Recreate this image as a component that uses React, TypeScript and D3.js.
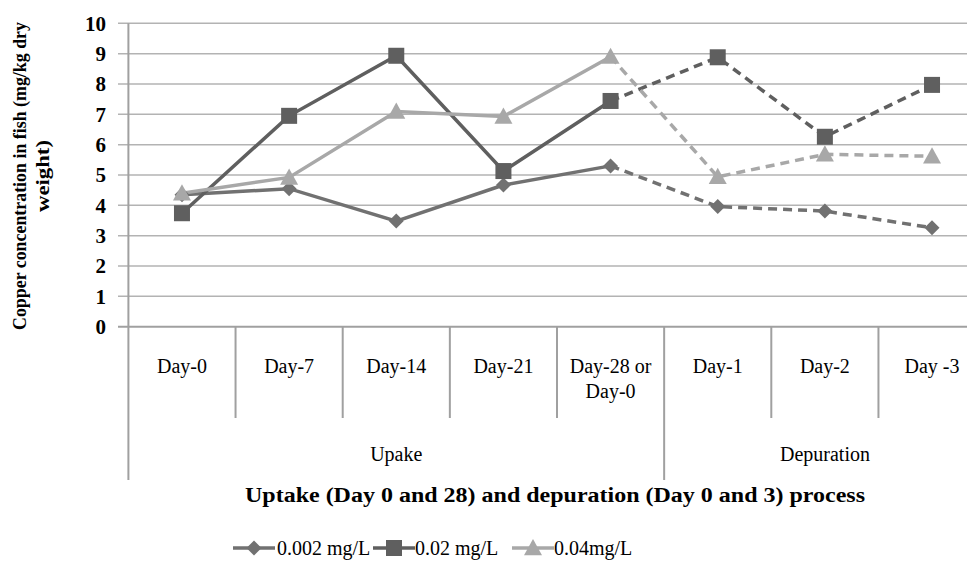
import React from "react";
import * as d3 from "d3";

const categories = ["Day-0", "Day-7", "Day-14", "Day-21", "Day-28 or|Day-0", "Day-1", "Day-2", "Day -3"];
const groups = [
  { name: "Upake", from: 0, to: 5 },
  { name: "Depuration", from: 5, to: 8 },
];
const s002 = [4.35, 4.55, 3.48, 4.67, 5.3, 3.96, 3.81, 3.26];
const s02 = [3.74, 6.95, 8.93, 5.13, 7.44, 8.88, 6.26, 7.97];
const s04 = [4.4, 4.92, 7.09, 6.93, 8.9, 4.94, 5.68, 5.62];
const yTicks = [0, 1, 2, 3, 4, 5, 6, 7, 8, 9, 10];
const seriesNames = ["0.002 mg/L", "0.02 mg/L", "0.04mg/L"];
const dashFrom = 4; // segments after this index are dashed

const W = 967, H = 571;
const left = 128.4, right = 985.6, top = 23.3, bottom = 326.7;
const FONT = "Liberation Serif";

export default function App() {
  const x = d3.scaleBand<number>().domain(d3.range(categories.length)).range([left, right]).paddingInner(0).paddingOuter(0);
  const y = d3.scaleLinear().domain([0, 10]).range([bottom, top]);
  const cx = (i: number) => (x(i) as number) + x.bandwidth() / 2;
  const line = d3.line<[number, number]>().x(d => cx(d[0])).y(d => y(d[1]));

  const series = [
    { name: seriesNames[0], values: s002, color: "#717171", marker: "diamond" },
    { name: seriesNames[1], values: s02, color: "#5f5f5f", marker: "square" },
    { name: seriesNames[2], values: s04, color: "#a8a8a8", marker: "triangle" },
  ];

  const marker = (type: string, px: number, py: number, color: string, key: any) => {
    if (type === "diamond") {
      const r = 7.5;
      return <path key={key} d={`M${px},${py - r}L${px + r},${py}L${px},${py + r}L${px - r},${py}Z`} fill={color} />;
    }
    if (type === "square") {
      const r = 8;
      return <rect key={key} x={px - r} y={py - r} width={2 * r} height={2 * r} fill={color} />;
    }
    const r = 9;
    return <path key={key} d={`M${px},${py - r}L${px + r},${py + r * 0.8}L${px - r},${py + r * 0.8}Z`} fill={color} />;
  };

  const gridColor = "#b3b3b3";
  const axisColor = "#a0a0a0";

  const legendItems = [
    { x: 233, tx: 277 },
    { x: 373, tx: 415 },
    { x: 512, tx: 554 },
  ];

  return (
    <svg width={W} height={H} style={{ position: "absolute", left: 0, top: 0, background: "#fff" }}>
      {/* gridlines & ticks */}
      {yTicks.map(t => (
        <g key={t}>
          <line x1={118} x2={right} y1={y(t)} y2={y(t)} stroke={t === 0 ? axisColor : gridColor} strokeWidth={t === 0 ? 2 : 1.5} />
          <text x={106} y={y(t)} dy="0.35em" textAnchor="end" fontFamily={FONT} fontWeight="bold" fontSize={21} fill="#000">{t}</text>
        </g>
      ))}
      {/* left axis */}
      <line x1={left} x2={left} y1={top} y2={480} stroke={axisColor} strokeWidth={2} />
      {/* category dividers */}
      {categories.map((c, i) => i > 0 ? (
        <line key={i} x1={x(i) as number} x2={x(i) as number} y1={bottom} y2={groups.some(g => g.from === i) ? 480 : 418} stroke={axisColor} strokeWidth={2} />
      ) : null)}
      {/* category labels */}
      {categories.map((c, i) => {
        const lines = c.split("|");
        return (
          <text key={i} x={cx(i)} y={373} textAnchor="middle" fontFamily={FONT} fontSize={20} fill="#000">
            {lines.map((l, j) => <tspan key={j} x={cx(i)} dy={j === 0 ? 0 : 25}>{l}</tspan>)}
          </text>
        );
      })}
      {groups.map(g => {
        const gx = ((x(g.from) as number) + Math.min((x(g.to - 1) as number) + x.bandwidth(), right)) / 2;
        return <text key={g.name} x={g.name === "Depuration" ? 825 : gx} y={461} textAnchor="middle" fontFamily={FONT} fontSize={20} fill="#000">{g.name}</text>;
      })}
      <text x={555} y={502} textAnchor="middle" fontFamily={FONT} fontWeight="bold" fontSize={20} textLength={620} lengthAdjust="spacingAndGlyphs" fill="#000">Uptake (Day 0 and 28) and depuration (Day 0 and 3) process</text>
      {/* y title */}
      <text transform={`translate(26,176) rotate(-90)`} textAnchor="middle" fontFamily={FONT} fontWeight="bold" fontSize={19} textLength={308} lengthAdjust="spacingAndGlyphs" fill="#000">Copper concentration in fish (mg/kg dry</text>
      <text transform={`translate(49,176) rotate(-90)`} textAnchor="middle" fontFamily={FONT} fontWeight="bold" fontSize={19} textLength={72} lengthAdjust="spacingAndGlyphs" fill="#000">weight)</text>
      {/* series */}
      {series.map((s, si) => {
        const pts = s.values.map((v, i) => [i, v] as [number, number]);
        const solid = pts.slice(0, dashFrom + 1);
        const dashed = pts.slice(dashFrom);
        return (
          <g key={si}>
            <path d={line(solid) as string} fill="none" stroke={s.color} strokeWidth={3.5} />
            <path d={line(dashed) as string} fill="none" stroke={s.color} strokeWidth={3.5} strokeDasharray="9,6" />
          </g>
        );
      })}
      {series.map((s, si) => (
        <g key={"m" + si}>{s.values.map((v, i) => marker(s.marker, cx(i), y(v), s.color, i))}</g>
      ))}
      {/* legend */}
      {series.map((s, si) => {
        const L = legendItems[si];
        const ly = 548;
        return (
          <g key={"l" + si}>
            <line x1={L.x} x2={L.x + 42} y1={ly} y2={ly} stroke={s.color} strokeWidth={3.5} />
            {marker(s.marker, L.x + 21, ly, s.color, "lm")}
            <text x={L.tx} y={ly} dy="0.35em" fontFamily={FONT} fontSize={20} fill="#000">{s.name}</text>
          </g>
        );
      })}
    </svg>
  );
}
